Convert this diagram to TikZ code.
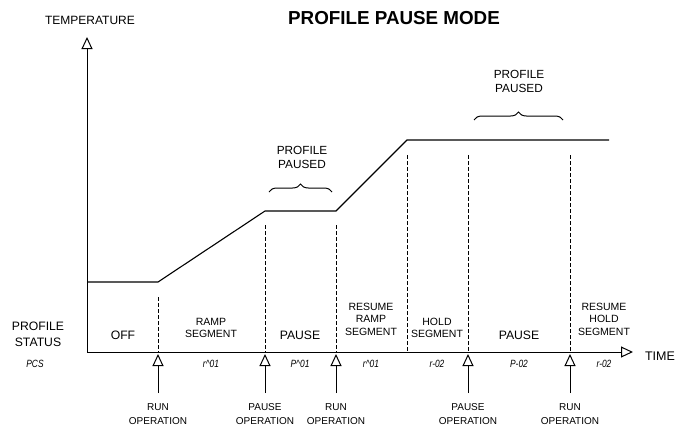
\documentclass[tikz,border=0pt]{standalone}
\usepackage{fontspec}
\setmainfont{Liberation Sans}
\usetikzlibrary{arrows.meta,decorations.pathreplacing}
\tikzset{
  axis/.style={line width=1pt,-{Triangle[open,length=12pt,width=11pt,line width=1pt]}},
  opline/.style={line width=1pt,-{Triangle[open,length=12pt,width=11pt,line width=1pt]}},
  profile/.style={line width=1.1pt},
  divider/.style={line width=0.9pt,dash pattern=on 4pt off 2pt},
  seglbl/.style={font=\fontsize{10.5}{12.5}\selectfont,align=center,inner sep=0pt},
  biglbl/.style={font=\fontsize{12.2}{14}\selectfont,align=center,inner sep=0pt},
  oplbl/.style={font=\fontsize{10}{14}\selectfont,align=center,inner sep=0pt},
  codelbl/.style={font=\fontsize{10.5}{11}\selectfont\itshape,inner sep=0pt,xscale=0.8,transform shape},
  brc/.style={decorate,decoration={brace,amplitude=8pt},line width=1pt},
}
\begin{document}
\begin{tikzpicture}[x=1pt,y=-1pt]
\useasboundingbox (0,0) rectangle (686,429);
% axes
\coordinate (o) at (87,352);
\coordinate (ytop) at (87,37);
\coordinate (xend) at (633,352);
\draw[axis] (o) -- (ytop);
\draw[axis] (o) -- (xend);
% profile
\coordinate (p0) at (87,282);
\coordinate (p1) at (158,282);
\coordinate (p2) at (265,211);
\coordinate (p3) at (336,211);
\coordinate (p4) at (407,140);
\coordinate (p5) at (609,140);
\draw[profile] (p0) -- (p1) -- (p2) -- (p3) -- (p4) -- (p5);
% dividers
\foreach \x/\y in {158/297,265/225,336/225,407/155,468/155,570/155}{
  \draw[divider] (\x,\y) -- (\x,352);
}
% operation arrows
\foreach \x in {158,265,336,468,570}{
  \draw[opline] (\x,393) -- (\x,354);
}
% titles
\node[font=\fontsize{18.8}{20}\selectfont\bfseries,inner sep=0pt] (title) at (394,18) {PROFILE PAUSE MODE};
\node[font=\fontsize{12}{12}\selectfont,inner sep=0pt] (temp) at (90,20) {TEMPERATURE};
\node[font=\fontsize{12.5}{14}\selectfont,inner sep=0pt] (time) at (660,356) {TIME};
\node[font=\fontsize{12.2}{16}\selectfont,align=center,inner sep=0pt] (status) at (38,334) {PROFILE\\STATUS};
\node[codelbl] (pcs) at (35,364) {PCS};
% segment labels
\node[biglbl] (off) at (123,335) {OFF};
\node[seglbl] (ramp) at (211,328) {RAMP\\SEGMENT};
\node[biglbl] (pause1) at (300,335) {PAUSE};
\node[seglbl] (rramp) at (371,319) {RESUME\\RAMP\\SEGMENT};
\node[seglbl] (hold) at (437,328) {HOLD\\SEGMENT};
\node[biglbl] (pause2) at (519,335) {PAUSE};
\node[seglbl] (rhold) at (604,319) {RESUME\\HOLD\\SEGMENT};
% codes
\node[codelbl] (c1) at (211,364) {r\textasciicircum 01};
\node[codelbl] (c2) at (300,364) {P\textasciicircum 01};
\node[codelbl] (c3) at (371,364) {r\textasciicircum 01};
\node[codelbl] (c4) at (437,364) {r-02};
\node[codelbl] (c5) at (519,364) {P-02};
\node[codelbl] (c6) at (604,364) {r-02};
% operation labels
\node[oplbl] (op1) at (158,414) {RUN\\OPERATION};
\node[oplbl] (op2) at (265,414) {PAUSE\\OPERATION};
\node[oplbl] (op3) at (336,414) {RUN\\OPERATION};
\node[oplbl] (op4) at (468,414) {PAUSE\\OPERATION};
\node[oplbl] (op5) at (570,414) {RUN\\OPERATION};
% profile paused
\node[font=\fontsize{11.8}{14}\selectfont,align=center,inner sep=0pt] (pp1) at (302,157) {PROFILE\\PAUSED};
\node[font=\fontsize{11.8}{14}\selectfont,align=center,inner sep=0pt] (pp2) at (519,81) {PROFILE\\PAUSED};
\draw[brc] (269,192) -- (332,192);
\draw[brc] (474,120) -- (563,120);
\end{tikzpicture}
\end{document}
